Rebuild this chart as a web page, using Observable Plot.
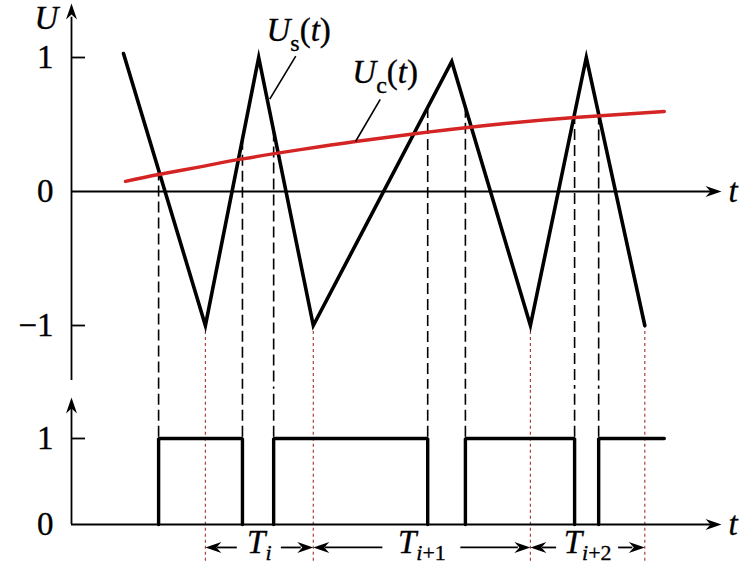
<!DOCTYPE html>
<html>
<head>
<meta charset="utf-8">
<script src="https://cdn.jsdelivr.net/npm/d3@7"></script>
<script src="https://cdn.jsdelivr.net/npm/@observablehq/plot@0.6"></script>
<style>
  html, body { margin: 0; padding: 0; background: #fff; }
  #chart { width: 746px; height: 567px; overflow: hidden; }
  #chart svg { display: block; }
  #chart svg text { font-family: "Liberation Serif", "DejaVu Serif", "Times New Roman", Times, serif !important; }
</style>
</head>
<body>
<div id="chart"></div>
<script>
// ---------------- data ----------------
// carrier (triangular) wave U_s(t): vertices
const carrierT = [0.80, 2.06, 2.88, 3.72, 5.85, 7.06, 7.92, 8.82];
const carrierU = [1.03, -1.00, 1.00, -1.00, 0.97, -1.00, 1.00, -1.00];
// control signal U_c(t)
const controlT = [0.83, 1.34, 1.98, 2.63, 3.52, 4.37, 5.48, 6.60, 7.74, 9.12];
const controlU = [0.075, 0.127, 0.184, 0.243, 0.312, 0.373, 0.443, 0.504, 0.552, 0.597];
// PWM switching instants (rise, fall, rise, ...) and end of the trace
const switchT = [1.34, 2.63, 3.11, 5.48, 6.06, 7.74, 8.11];
const pwmEndT = 9.12;
// tick labels
const topTicks = [1, 0, -1];
const topTickLabels = ["1", "0", "\u22121"];
const bottomTicks = [1, 0];
const bottomTickLabels = ["1", "0"];
// period labels
const periodLabels = ["T_i", "T_i+1", "T_i+2"];

// ---------------- derived ----------------
const carrier = carrierT.map((t, i) => ({t, u: carrierU[i]}));
const control = controlT.map((t, i) => ({t, u: controlU[i]}));
const minT = carrierT.filter((t, i) => carrierU[i] === -1);
function carrierAt(t) {
  for (let i = 0; i < carrierT.length - 1; i++) {
    if (t >= carrierT[i] && t <= carrierT[i + 1]) {
      const f = (t - carrierT[i]) / (carrierT[i + 1] - carrierT[i]);
      return carrierU[i] + f * (carrierU[i + 1] - carrierU[i]);
    }
  }
  return 0;
}
const pulses = [];
for (let k = 0; k < switchT.length; k += 2) {
  const r = switchT[k], f = k + 1 < switchT.length ? switchT[k + 1] : null;
  pulses.push({t: r, v: 0, z: k}, {t: r, v: 1, z: k});
  if (f !== null) pulses.push({t: f, v: 1, z: k}, {t: f, v: 0, z: k});
  else pulses.push({t: pwmEndT, v: 1, z: k});
}

// ---------------- style ----------------
const PX = 65; // pixels per t unit
const FONT = "Liberation Serif, DejaVu Serif, serif";
const RED = "#d42424";
const DOT_RED = "#b04040";
function head(dx, dy) {
  const L = 16, W = 5.5, N = 5;
  const px = -dy, py = dx;
  return {draw(ctx) {
    ctx.moveTo(0, 0);
    ctx.lineTo(-dx * L + px * W, -dy * L + py * W);
    ctx.lineTo(-dx * (L - N), -dy * (L - N));
    ctx.lineTo(-dx * L - px * W, -dy * L - py * W);
    ctx.closePath();
  }};
}
const headRight = head(1, 0), headLeft = head(-1, 0), headUp = head(0, -1);

const richSpecs = {
  "Us(t)": [{t: "U", it: 1}, {t: "s", sub: 1}, {t: "("}, {t: "t", it: 1}, {t: ")"}],
  "Uc(t)": [{t: "U", it: 1}, {t: "c", sub: 1}, {t: "("}, {t: "t", it: 1}, {t: ")"}],
  "T_i": [{t: "T", it: 1}, {t: "i", it: 1, sub: 1}],
  "T_i+1": [{t: "T", it: 1}, {t: "i", it: 1, sub: 1}, {t: "+1", sub: 1}],
  "T_i+2": [{t: "T", it: 1}, {t: "i", it: 1, sub: 1}, {t: "+2", sub: 1}]
};
function applyRich(svg, subSize, subDy) {
  svg.querySelectorAll("text").forEach(el => {
    const spec = richSpecs[el.textContent];
    if (!spec) return;
    el.textContent = "";
    let shifted = false;
    for (const tok of spec) {
      const ts = document.createElementNS("http://www.w3.org/2000/svg", "tspan");
      ts.textContent = tok.t;
      ts.setAttribute("font-style", tok.it ? "italic" : "normal");
      if (tok.sub) {
        ts.setAttribute("font-size", String(subSize));
        if (!shifted) { ts.setAttribute("dy", String(subDy)); shifted = true; }
      } else if (shifted) {
        ts.setAttribute("dy", String(-subDy)); shifted = false;
      }
      el.appendChild(ts);
    }
  });
}

const textBase = {fontSize: 33, fill: "black", stroke: "black", strokeWidth: 0.35, fontFamily: FONT};

// ---------------- top panel ----------------
const topPlot = Plot.plot({
  width: 746, height: 388,
  x: {domain: [0, 10], range: [71, 721], axis: null},
  y: {domain: [-1, 1], range: [325, 57], axis: null},
  style: {background: "white", overflow: "hidden", fontFamily: FONT},
  marks: [
    // dashed projection lines
    Plot.ruleX(switchT, {x: d => d, y1: d => carrierAt(d), y2: -1.7, stroke: "black", strokeWidth: 1.6, strokeDasharray: "11,5"}),
    Plot.ruleX(minT, {x: d => d, y1: -1, y2: -1.7, stroke: DOT_RED, strokeWidth: 1.2, strokeDasharray: "3,3"}),
    // axes
    Plot.ruleX([0], {x: d => d, y1: -1.41, y2: 1.30, stroke: "black", strokeWidth: 1.8}),
    Plot.ruleY([0], {y: d => d, x1: 0, x2: 9.85, stroke: "black", strokeWidth: 1.8}),
    Plot.dot([[0, 1.403]], {x: d => d[0], y: d => d[1], symbol: headUp, r: 5, fill: "black", stroke: "none"}),
    Plot.dot([[10, 0]], {x: d => d[0], y: d => d[1], symbol: headRight, r: 5, fill: "black", stroke: "none"}),
    Plot.ruleY([1, -1], {y: d => d, x1: 0, x2: 0.215, stroke: "black", strokeWidth: 1.8}),
    Plot.text(topTicks, {x: 0, y: d => d, text: (d, i) => topTickLabels[i], dx: -18, textAnchor: "end", lineAnchor: "middle", ...textBase}),
    Plot.text(["U"], {x: 0, y: 1.216, text: d => d, dx: -37, textAnchor: "start", lineAnchor: "bottom", fontStyle: "italic", ...textBase}),
    Plot.text(["t"], {x: 10, y: 0, text: d => d, dx: 7, textAnchor: "start", lineAnchor: "middle", fontStyle: "italic", ...textBase}),
    // signals
    Plot.line(carrier, {x: "t", y: "u", stroke: "black", strokeWidth: 3.6, strokeLinejoin: "miter", strokeMiterlimit: 30}),
    Plot.line(control, {x: "t", y: "u", stroke: RED, strokeWidth: 3.4, curve: "natural"}),
    // leader lines and labels
    Plot.link([{x1: 3.45, y1: 1.01, x2: 3.05, y2: 0.69}, {x1: 4.75, y1: 0.687, x2: 4.37, y2: 0.373}],
      {x1: "x1", y1: "y1", x2: "x2", y2: "y2", stroke: "black", strokeWidth: 1.6}),
    Plot.text([{x: 3.0, y: 1.12, s: "Us(t)"}, {x: 4.32, y: 0.806, s: "Uc(t)"}],
      {x: "x", y: "y", text: "s", textAnchor: "start", lineAnchor: "bottom", ...textBase})
  ]
});

// ---------------- bottom panel ----------------
const periods = minT.slice(0, -1).map((a, k) => ({a, b: minT[k + 1], c: (a + minT[k + 1]) / 2, label: periodLabels[k], k}));
const gapPx = [22, 39, 31];
const arrowY = -0.267;
const shafts = [];
periods.forEach(p => {
  const g = gapPx[p.k] / PX, h = 12 / PX;
  shafts.push({x1: p.a + h, x2: p.c - g}, {x1: p.c + g, x2: p.b - h});
});

const botPlot = Plot.plot({
  width: 746, height: 179,
  x: {domain: [0, 10], range: [71, 721], axis: null},
  y: {domain: [0, 1], range: [136, 50], axis: null},
  style: {background: "white", overflow: "hidden", fontFamily: FONT},
  marks: [
    Plot.ruleX(switchT, {x: d => d, y1: 1.7, y2: 1, stroke: "black", strokeWidth: 1.6, strokeDasharray: "11,5"}),
    Plot.ruleX(minT, {x: d => d, y1: 1.7, y2: -0.45, stroke: DOT_RED, strokeWidth: 1.2, strokeDasharray: "3,3"}),
    // axes
    Plot.ruleX([0], {x: d => d, y1: 0, y2: 1.37, stroke: "black", strokeWidth: 1.8}),
    Plot.ruleY([0], {y: d => d, x1: 0, x2: 9.85, stroke: "black", strokeWidth: 1.8}),
    Plot.dot([[0, 1.477]], {x: d => d[0], y: d => d[1], symbol: headUp, r: 5, fill: "black", stroke: "none"}),
    Plot.dot([[10, 0]], {x: d => d[0], y: d => d[1], symbol: headRight, r: 5, fill: "black", stroke: "none"}),
    Plot.ruleY([1], {y: d => d, x1: 0, x2: 0.215, stroke: "black", strokeWidth: 1.8}),
    Plot.text(bottomTicks, {x: 0, y: d => d, text: (d, i) => bottomTickLabels[i], dx: -18, textAnchor: "end", lineAnchor: "middle", ...textBase}),
    Plot.text(["t"], {x: 10, y: 0, text: d => d, dx: 7, textAnchor: "start", lineAnchor: "middle", fontStyle: "italic", ...textBase}),
    // PWM signal
    Plot.line(pulses, {x: "t", y: "v", z: "z", stroke: "black", strokeWidth: 3.4, strokeLinejoin: "miter"}),
    // period arrows
    Plot.ruleY(shafts, {y: arrowY, x1: "x1", x2: "x2", stroke: "black", strokeWidth: 1.8}),
    Plot.dot(periods, {x: "a", y: arrowY, symbol: headLeft, r: 5, fill: "black", stroke: "none"}),
    Plot.dot(periods, {x: "b", y: arrowY, symbol: headRight, r: 5, fill: "black", stroke: "none"}),
    Plot.text(periods, {x: "c", y: -0.335, text: "label", textAnchor: "middle", lineAnchor: "bottom", ...textBase})
  ]
});

applyRich(topPlot, 24, 10);
applyRich(botPlot, 22, 7);
const host = document.getElementById("chart");
host.appendChild(topPlot);
host.appendChild(botPlot);
</script>
</body>
</html>
